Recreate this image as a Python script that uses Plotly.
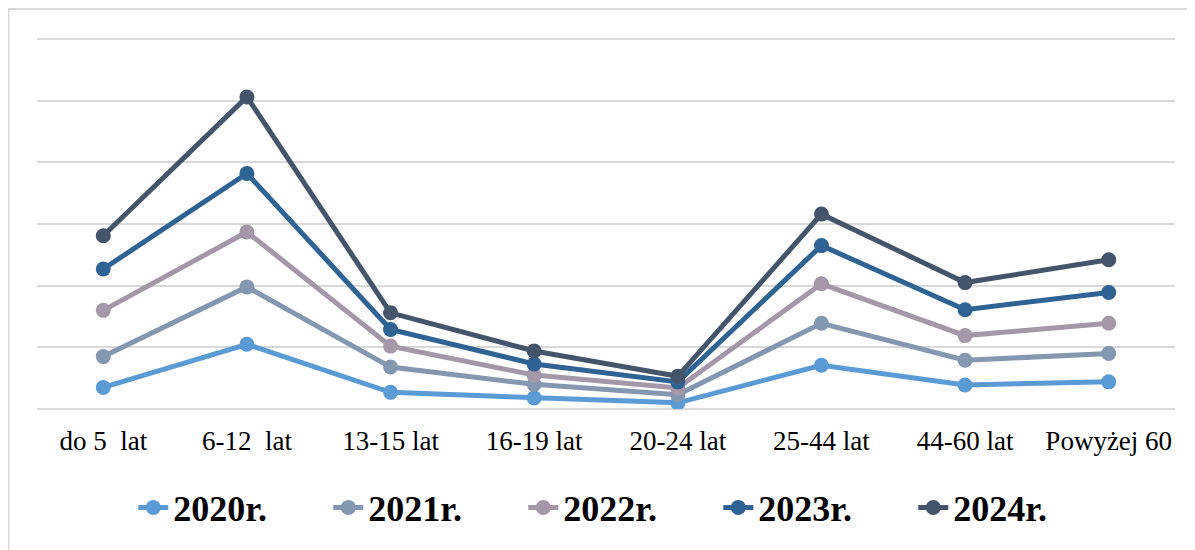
import plotly.graph_objects as go

# Age groups on the x axis
categories = ['do 5  lat', '6-12  lat', '13-15 lat', '16-19 lat', '20-24 lat',
              '25-44 lat', '44-60 lat', 'Powyżej 60']

# Values per year (no y labels in the original)
y2020 = [35, 105, 27, 18, 10, 71, 39, 44]
y2021 = [85, 198, 68, 40, 23, 139, 79, 90]
y2022 = [160, 287, 102, 55, 34, 203, 119, 139]
y2023 = [227, 382, 129, 73, 44, 265, 161, 189]
y2024 = [281, 506, 156, 94, 53, 316, 205, 242]

series = [
    ('2020r.', y2020, '#5B9BD5'),
    ('2021r.', y2021, '#8497B0'),
    ('2022r.', y2022, '#A497A8'),
    ('2023r.', y2023, '#2E6394'),
    ('2024r.', y2024, '#44546A'),
]

fig = go.Figure()
for name, vals, color in series:
    fig.add_trace(go.Scatter(
        x=categories, y=vals, name=name, mode='lines+markers',
        line=dict(color=color, width=5),
        marker=dict(color=color, size=15),
    ))

# page body has an 8px margin, so the figure is a bit smaller than the window
fig.update_layout(
    width=1187, height=542,
    paper_bgcolor='white', plot_bgcolor='white',
    margin=dict(l=29, r=20, t=25, b=139),
    font=dict(family='Liberation Serif, DejaVu Serif, serif', color='#000000'),
    showlegend=True,
    legend=dict(orientation='h', x=0.513, xanchor='center', y=-0.262, yanchor='middle',
                font=dict(size=36, family='Liberation Serif, serif', weight='bold'),
                entrywidth=150, entrywidthmode='pixels', tracegroupgap=0),
    shapes=[dict(type='rect', xref='paper', yref='paper',
                 x0=-0.025, x1=1.05, y0=-0.5, y1=1.0635,
                 line=dict(color='#D9D9D9', width=2))],
)

fig.update_xaxes(showgrid=False, showline=False, ticks='', ticklabelstandoff=13,
                 tickfont=dict(size=27))
fig.update_yaxes(range=[0, 609.7], dtick=100, showgrid=True, gridcolor='#D9D9D9',
                 gridwidth=2, zeroline=True, zerolinecolor='#D9D9D9', zerolinewidth=2,
                 showticklabels=False, ticks='')

fig.write_html("out.html")
